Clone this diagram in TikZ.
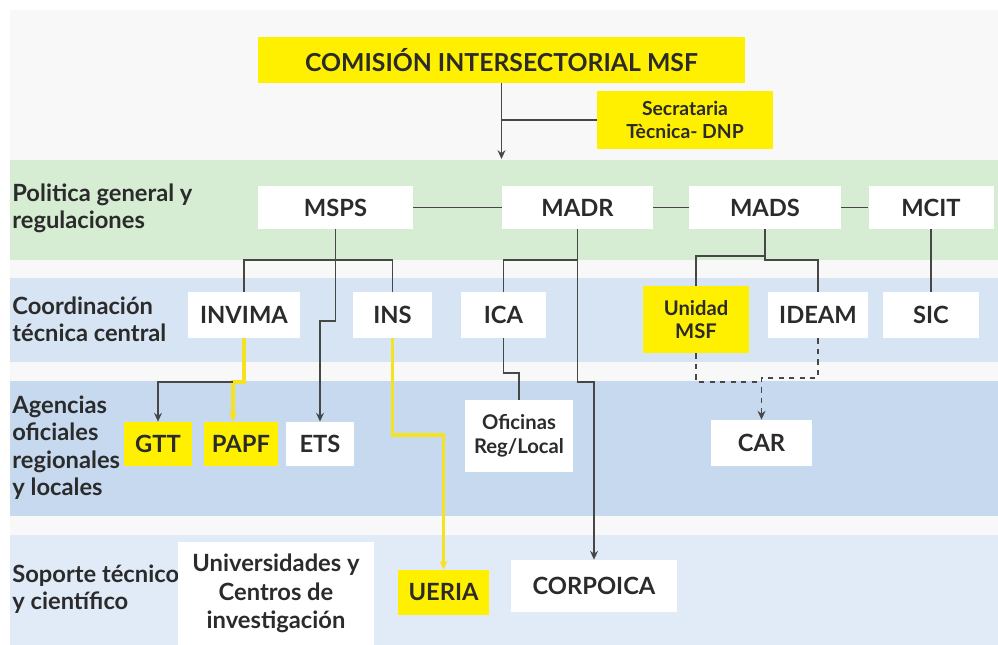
\documentclass[tikz,border=0pt]{standalone}
\usepackage{fontspec}
\setmainfont{Lato}
\usetikzlibrary{arrows.meta,calc}
\definecolor{bggray}{HTML}{F8F8F8}
\definecolor{bandgreen}{HTML}{D6ECD3}
\definecolor{bandblue}{HTML}{D7E4F4}
\definecolor{bandmid}{HTML}{C6D9EF}
\definecolor{bandlight}{HTML}{E1EBF7}
\definecolor{msfyellow}{HTML}{FFF000}
\definecolor{lineyellow}{HTML}{F5E321}
\definecolor{txtgray}{HTML}{2B2B2B}
\definecolor{linegray}{HTML}{474747}
\tikzset{
  box/.style={fill=white,text=txtgray,font=\bfseries\fontsize{13.5}{16}\selectfont,align=center,inner sep=0pt},
  ybox/.style={box,fill=msfyellow},
  boxsize/.style 2 args={minimum width=#1*0.02cm,minimum height=#2*0.02cm},
  lbl/.style={anchor=west,align=left,inner sep=0pt,text=txtgray,font=\bfseries\fontsize{13.5}{15.6}\selectfont},
  conn/.style={draw=linegray,line width=0.8pt},
  yconn/.style={draw=lineyellow,line width=1.8pt},
  dconn/.style={conn,dashed},
  arrowend/.style={-{Stealth[length=5pt,width=4.5pt]}}
}
\begin{document}
\begin{tikzpicture}[x=0.02cm,y=-0.02cm]
\useasboundingbox (0,0) rectangle (998,645);
\fill[white] (0,0) rectangle (998,645);
\fill[bggray] (10,10) rectangle (998,645);
\fill[bandgreen] (10,160) rectangle (998,260);
\fill[bandblue] (10,278) rectangle (998,362);
\fill[bandmid] (10,381) rectangle (998,516);
\fill[bandlight] (10,535) rectangle (998,645);

\node[lbl] (l-pol) at (12,208.5) {Politica general y\\regulaciones};
\node[lbl] (l-coord) at (12,319) {Coordinación\\técnica central};
\node[lbl] (l-agen) at (12,447.5) {Agencias\\oficiales\\regionales\\y locales};
\node[lbl] (l-sop) at (12,589) {Soporte técnico\\y científico};

\node[ybox,boxsize={487}{46},font=\bfseries\fontsize{14.1}{17}\selectfont] (cims) at (501.5,60) {COMISIÓN INTERSECTORIAL MSF};
\node[ybox,boxsize={176}{58},font=\bfseries\fontsize{11}{13}\selectfont] (sec) at (685,120) {Secrataria\\Tècnica- DNP};

\node[box,boxsize={155}{43}] (msps) at (335.5,207.5) {MSPS};
\node[box,boxsize={151}{43}] (madr) at (577.5,207.5) {MADR};
\node[box,boxsize={152}{43}] (mads) at (765,207.5) {MADS};
\node[box,boxsize={125}{43}] (mcit) at (931,207.5) {MCIT};

\node[box,boxsize={112}{46}] (invima) at (244,315) {INVIMA};
\node[box,boxsize={79}{46}] (ins) at (392.5,315) {INS};
\node[box,boxsize={85}{46}] (ica) at (503.5,315) {ICA};
\node[ybox,boxsize={106}{67},font=\bfseries\fontsize{11.5}{13}\selectfont] (umsf) at (696,319.5) {Unidad\\MSF};
\node[box,boxsize={100}{46}] (ideam) at (818,315) {IDEAM};
\node[box,boxsize={96}{46}] (sic) at (931,315) {SIC};

\node[ybox,boxsize={68}{44}] (gtt) at (158,444) {GTT};
\node[ybox,boxsize={74}{44}] (papf) at (241,444) {PAPF};
\node[box,boxsize={68}{44}] (ets) at (320,444) {ETS};
\node[box,boxsize={108}{72},font=\bfseries\fontsize{11.5}{13.6}\selectfont] (ofic) at (519,436) {Oficinas\\Reg/Local};
\node[box,boxsize={101}{46}] (car) at (761.5,443) {CAR};

\node[box,boxsize={196}{103},font=\bfseries\fontsize{13.5}{16.2}\selectfont] (univ) at (276,593.5) {Universidades y\\Centros de\\investigación};
\node[ybox,boxsize={91}{45}] (ueria) at (443.5,592.5) {UERIA};
\node[box,boxsize={166}{52},font=\bfseries\fontsize{13.5}{16}\selectfont] (corp) at (594,586) {CORPOICA};

\coordinate (cims-in) at (501.5,159);
\coordinate (msps-bus) at (335.5,260);
\coordinate (ets-jog) at (335.5,321);
\coordinate (invima-jog) at (233,382);
\coordinate (ins-jog) at (392.5,435);
\coordinate (madr-bus) at (577.5,260);
\coordinate (madr-jog) at (577.5,382);
\coordinate (ica-jog) at (503.5,373);
\coordinate (mads-busl) at (765,256);
\coordinate (mads-busr) at (765,260);
\coordinate (car-top) at (761.5,378);

\draw[conn,arrowend] (cims.south) -- (cims-in);
\draw[conn] (sec.west) -- (cims.south |- sec.west);
\draw[conn] (msps) -- (madr) -- (mads) -- (mcit);
\draw[conn] (mcit.south) -- (sic.north);

\draw[conn] (invima.north) |- (msps-bus) -| (ins.north);
\draw[conn,arrowend] (msps.south) -- (ets-jog) -| (ets.north);
\draw[yconn,arrowend] (invima.south) |- (invima-jog) -- ($(papf.north)+(-8,0)$);
\draw[conn,arrowend] (invima-jog) -| (gtt.north);
\draw[yconn,arrowend] (ins.south) -- (ins-jog) -| (ueria.north);

\draw[conn] (ica.north) |- (madr-bus);
\draw[conn,arrowend] (madr.south) -- (madr-jog) -| (corp.north);
\draw[conn] (ica.south) -- (ica-jog) -| (ofic.north);

\draw[conn] (mads.south) -- (mads-busr) -| (ideam.north);
\draw[conn] (mads-busl) -| (umsf.north);
\draw[dconn,arrowend] (ideam.south) |- (car-top) -- (car.north);
\draw[dconn] (umsf.south) |- ($(car-top)+(0,4)$);
\end{tikzpicture}
\end{document}
